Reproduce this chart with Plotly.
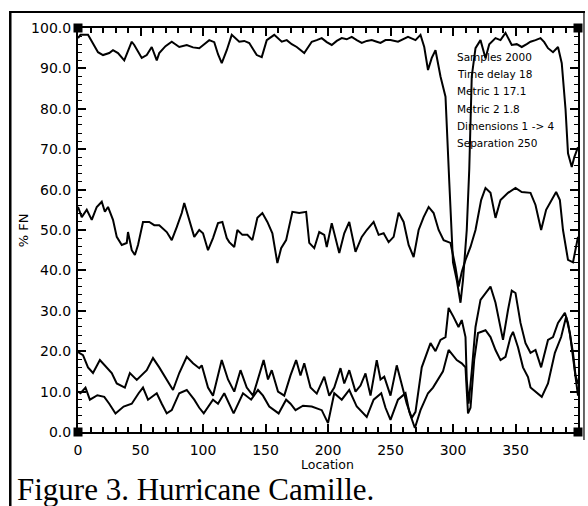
import plotly.graph_objects as go

# ---- data ----
s1_x = [0, 2, 8, 12, 16, 20, 25, 28, 32, 37, 43, 45, 51, 55, 59, 63, 65, 70, 75, 81, 87, 92, 97, 101, 105, 109, 112, 115, 119, 123, 129, 133, 137, 143, 147, 151, 157, 163, 167, 171, 175, 181, 187, 191, 195, 199, 203, 207, 211, 215, 219, 223, 227, 231, 235, 239, 242, 246, 250, 256, 260, 264, 270, 274, 277, 280, 283, 286, 290, 294, 297, 300, 303, 306, 308, 311, 313, 315, 318, 322, 326, 329, 334, 338, 342, 347, 351, 355, 359, 362, 366, 370, 373, 376, 380, 384, 387, 390, 392, 395, 397, 400]
s1_y = [97.5, 98.3, 98.3, 96, 94, 93.3, 93.8, 94.5, 93.8, 92, 96.6, 95.8, 92.6, 93.3, 95.3, 92, 93.8, 95.5, 96.6, 95.3, 95.8, 95.2, 95, 96, 97, 96.5, 93.5, 91.3, 94.5, 98.3, 96.6, 96.8, 96.3, 93.3, 92.8, 97, 98.3, 96.6, 97, 96, 95.3, 93.8, 96.6, 97, 97.5, 96.5, 95.8, 96.8, 97.5, 97.2, 97.8, 97, 96.3, 96.8, 97, 96.6, 96.3, 97, 97, 96.6, 97.2, 97.8, 97, 98.3, 95.3, 89.6, 92.6, 94.5, 88, 83, 62, 42, 37.6, 32, 37.6, 50, 65, 88, 95, 97, 92.5, 96, 97.5, 97, 98.8, 95.8, 96, 95.3, 96, 96.6, 97, 97.5, 96.5, 95, 94, 95.3, 91.3, 80, 69, 65.6, 68, 70.5]

s2_x = [0, 3, 7, 11, 15, 19, 21.5, 24, 28, 31, 35, 39, 40, 43, 45.5, 48, 52, 57, 61, 65, 71, 75, 79, 83, 85, 89, 93, 97, 100, 104, 108, 112, 115.5, 119, 121, 125, 127.5, 131.5, 135.5, 139.5, 143.5, 147.5, 151.5, 155.5, 159.5, 162.5, 166.5, 171.5, 177, 182.5, 185, 189, 193, 197, 199, 203, 209, 213, 217, 222, 227, 231, 236.5, 240.5, 244.5, 248.5, 252.5, 256.5, 260.5, 264.5, 268.5, 272.5, 276.5, 280.5, 284.5, 288.5, 292.5, 298, 302, 304.5, 307, 310, 314, 318, 322.5, 326, 330, 334, 338, 344, 350, 355, 362, 366, 370.5, 374.5, 378.5, 382.5, 385.5, 388, 392, 396, 400]
s2_y = [55.7, 53.2, 55, 52.5, 55.7, 57, 54.5, 55.7, 52.5, 48.3, 46.3, 46.8, 49.5, 45, 43.8, 46.3, 52, 52, 51.2, 51.2, 49.5, 47.5, 50.7, 54.2, 56.7, 52.5, 48.3, 50, 49.2, 45, 48, 51.7, 52, 48, 47, 45.8, 50, 48.8, 48.8, 47.5, 53, 54.2, 52, 49.2, 41.8, 45.5, 47.5, 54.5, 54.2, 54.5, 46.8, 45.5, 49.5, 48.8, 45.8, 51.7, 44.3, 49.2, 52, 44.6, 48.3, 50, 52, 48.8, 49.2, 47, 48.3, 54.3, 52, 46.3, 43.3, 50, 53.2, 55.7, 54.2, 50, 47.5, 46.8, 40.8, 36, 39.6, 42.6, 45.8, 50, 57.4, 60.4, 59.2, 53, 57.4, 59.2, 60.4, 59.4, 59.2, 56.2, 50, 55, 57.4, 59.4, 57.4, 50, 42.6, 42, 48.3]

s3_x = [0, 4, 8, 12, 17.5, 23, 27, 31, 37.5, 41.5, 47, 55, 60, 65, 71, 76, 81, 87, 92, 97, 99, 104, 108, 112, 115, 120, 125, 130, 135, 140, 144, 148.5, 152, 155, 160, 165, 170, 174.5, 178, 181, 186, 191, 197, 201, 205, 210, 213, 217, 222, 226, 230, 234, 239, 242, 245, 250, 255, 259, 263, 267, 270, 275, 282, 286, 290, 294, 296.5, 300.4, 304.4, 307, 310, 311, 312.5, 315, 318, 322, 326, 330, 334, 338, 340, 344, 347, 350, 354, 358, 362, 366, 370.5, 376, 380, 384, 389.5, 392, 396, 398, 400]
s3_y = [19.8, 19, 16, 14.6, 17.8, 16, 14.6, 12, 11, 14.6, 12.9, 15.3, 18.3, 16, 12.9, 10.4, 14.6, 18.6, 17, 15.8, 16.5, 11, 9, 14, 17.8, 13, 10, 15.3, 11, 9, 13, 17.8, 13, 15.3, 10, 9, 14, 17.8, 14, 17, 11, 9.5, 13.7, 9, 11, 15.8, 12, 15.3, 10, 11.5, 14.5, 9, 17.8, 13, 13.7, 9, 16.5, 12, 7, 3.5, 5, 16, 22, 20, 22.8, 23.5, 30.7, 28.5, 26, 27.7, 23.5, 12.9, 7, 15, 26, 32.7, 34.4, 36, 32, 26, 22.8, 30.2, 35, 34.4, 27, 22, 19.6, 20.3, 16, 22.8, 23.5, 27, 29.5, 27, 19.6, 14, 12]

s4_x = [0, 2, 6, 9.5, 15.5, 21, 25, 30, 36.5, 43, 48.5, 52, 56, 63, 67, 71, 75, 81, 87, 93, 97, 100.6, 108, 112, 117, 124.5, 132, 138.5, 144, 148, 153, 160.5, 166.5, 170, 174, 180, 187, 195, 200, 205, 211, 217, 223, 231, 236.5, 242.6, 246, 250, 256, 262, 265, 269.5, 274, 280, 284, 288, 292, 296.5, 300, 303, 307, 310, 312, 314, 317, 320, 326, 330, 334, 338, 342, 346, 348, 352, 356, 360, 362, 366, 371, 376, 381.5, 386.5, 390.5, 393.5, 397.5, 400]
s4_y = [10, 9.6, 11, 8, 9.1, 8.7, 7, 4.6, 6.3, 7, 9.6, 11, 8, 9.6, 7, 4.6, 5.4, 9.6, 10.4, 8, 6, 4.6, 8, 7, 9.6, 4.6, 9.6, 8, 10.4, 9, 6.3, 4.6, 8, 7, 5.4, 6.5, 6.3, 5.4, 2.2, 9.6, 8, 10.4, 6.3, 3.7, 8, 9.6, 6, 3, 8, 9.6, 5, 1, 5.4, 9.6, 11, 13, 15, 20.3, 19, 17.8, 17, 16, 4.6, 6, 18, 24.5, 25.2, 23.5, 20.3, 17.8, 18.6, 23.5, 24.8, 21, 16, 13.6, 11, 10, 8.7, 12, 19.6, 23.5, 28.5, 24.5, 15, 9]

y_ticks = [0, 10, 20, 30, 40, 50, 60, 70, 80, 90, 100]
y_labels = ["0.0", "10.0", "20.0", "30.0", "40.0", "50.0", "60.0", "70.0", "80.0", "90.0", "100.0"]
x_ticks = [0, 50, 100, 150, 200, 250, 300, 350]
x_labels = ["0", "50", "100", "150", "200", "250", "300", "350"]
info_lines = ["Samples 2000", "Time delay 18", "Metric 1 17.1", "Metric 2 1.8", "Dimensions 1 -> 4", "Separation 250"]
corner_x = [0, 0, 400, 400]
corner_y = [0, 100, 100, 0]

# ---- figure ----
W, H = 588, 506
L, R, T, B = 78, 8, 28, 74
pw, ph = W - L - R, H - T - B

def px(xp):
    return (xp - L) / pw

def py(yp):
    return (H - B - yp) / ph

fig = go.Figure()
for xs, ys in [(s1_x, s1_y), (s2_x, s2_y), (s3_x, s3_y), (s4_x, s4_y)]:
    fig.add_trace(go.Scatter(x=xs, y=ys, mode="lines",
                             line=dict(color="black", width=2),
                             showlegend=False, hoverinfo="skip"))
fig.add_trace(go.Scatter(x=corner_x, y=corner_y, mode="markers",
                         marker=dict(symbol="square", size=9, color="black"),
                         cliponaxis=False, showlegend=False, hoverinfo="skip"))

tickfont = dict(family="DejaVu Sans", size=14, color="black")
fig.update_xaxes(range=[0, 400], showgrid=False, zeroline=False,
                 showline=True, linecolor="black", linewidth=2, mirror="ticks",
                 ticks="inside", ticklen=8, tickwidth=1.5, tickcolor="black",
                 tickvals=x_ticks, ticktext=x_labels, tickfont=tickfont,
                 ticklabelstandoff=4,
                 minor=dict(ticks="inside", dtick=10, ticklen=5, tickwidth=1.5,
                            tickcolor="black", showgrid=False))
fig.update_yaxes(range=[0, 100], showgrid=False, zeroline=False,
                 showline=True, linecolor="black", linewidth=2, mirror="ticks",
                 ticks="inside", ticklen=8, tickwidth=1.5, tickcolor="black",
                 tickvals=y_ticks, ticktext=y_labels, tickfont=tickfont,
                 ticklabelstandoff=2,
                 minor=dict(ticks="inside", dtick=2, ticklen=4, tickwidth=1.2,
                            tickcolor="black", showgrid=False))

ann = []
ann.append(dict(x=px(23), y=py(230), xref="paper", yref="paper", text="% FN",
                textangle=-90, showarrow=False, xanchor="center", yanchor="middle",
                font=dict(family="DejaVu Sans", size=13, color="black")))
ann.append(dict(x=px(328), y=py(464), xref="paper", yref="paper", text="Location",
                showarrow=False, xanchor="center", yanchor="middle",
                font=dict(family="DejaVu Sans", size=12.5, color="black")))
ann.append(dict(x=px(15), y=py(490), xref="paper", yref="paper",
                text="Figure 3. Hurricane Camille.", xanchor="left", yanchor="middle",
                showarrow=False,
                font=dict(family="Liberation Serif", size=31, color="black")))
for i, t in enumerate(info_lines):
    ann.append(dict(x=px(457), y=py(57 + i * 17.2), xref="paper", yref="paper",
                    text=t, xanchor="left", yanchor="middle", showarrow=False,
                    font=dict(family="DejaVu Sans", size=10.5, color="black")))

shapes = [
    dict(type="line", xref="paper", yref="paper", x0=px(10), x1=px(587), y0=py(12), y1=py(12),
         line=dict(color="black", width=2)),
    dict(type="line", xref="paper", yref="paper", x0=px(10), x1=px(10), y0=py(11), y1=py(506),
         line=dict(color="black", width=2.5)),
    dict(type="line", xref="paper", yref="paper", x0=px(586), x1=px(586), y0=py(11), y1=py(440),
         line=dict(color="black", width=1.2)),
]

fig.update_layout(width=W, height=H, margin=dict(l=L, r=R, t=T, b=B),
                  paper_bgcolor="white", plot_bgcolor="white",
                  annotations=ann, shapes=shapes)

fig.write_html("out.html", config={"displayModeBar": False},
               post_script="document.body.style.margin='0';document.body.style.overflow='hidden';")
